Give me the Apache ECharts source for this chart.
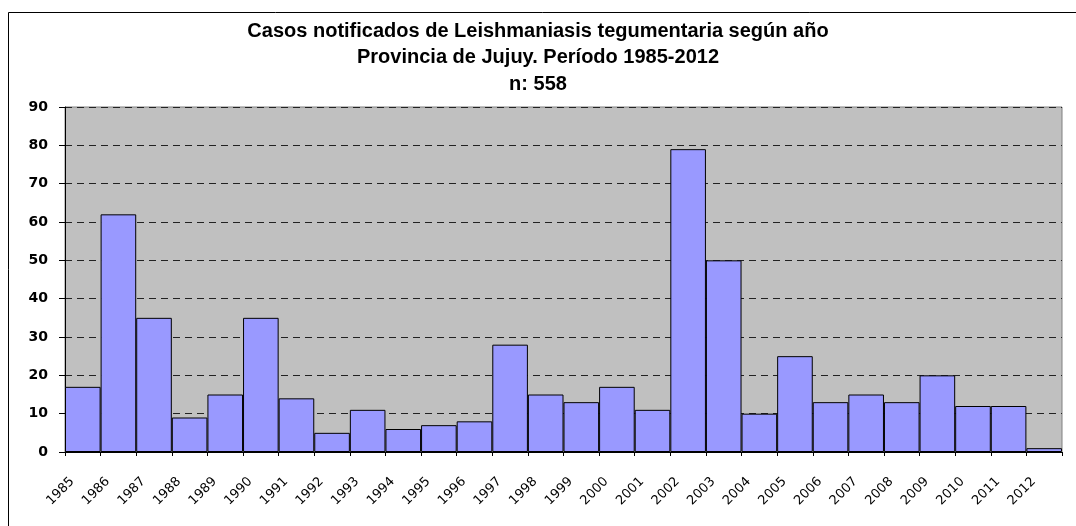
<!DOCTYPE html>
<html>
<head>
<meta charset="utf-8">
<script src="https://cdn.jsdelivr.net/npm/echarts@6/dist/echarts.min.js"></script>
<style>
  html, body { margin: 0; padding: 0; background: #fff; }
  #chart { width: 1076px; height: 526px; }
</style>
</head>
<body>
<div id="chart"></div>
<script>
var years = ['1985', '1986', '1987', '1988', '1989', '1990', '1991', '1992', '1993', '1994',
  '1995', '1996', '1997', '1998', '1999', '2000', '2001', '2002', '2003', '2004',
  '2005', '2006', '2007', '2008', '2009', '2010', '2011', '2012'];
var casos = [17, 62, 35, 9, 15, 35, 14, 5, 11, 6,
  7, 8, 28, 15, 13, 17, 11, 79, 50, 10,
  25, 13, 15, 13, 20, 12, 12, 1];
var titleLines = [
  'Casos notificados de Leishmaniasis tegumentaria según año',
  'Provincia de Jujuy. Período 1985-2012',
  'n: 558'
];
var titleTops = [21, 47, 74];

var chart = echarts.init(document.getElementById('chart'));

var titles = titleLines.map(function (t, i) {
  return {
    text: t,
    left: 'center',
    top: titleTops[i],
    padding: 0,
    textStyle: {
      fontFamily: 'Liberation Sans',
      fontWeight: 'bold',
      fontSize: 20,
      color: '#000'
    }
  };
});

var option = {
  animation: false,
  backgroundColor: '#fff',
  title: titles,
  graphic: [{
    type: 'rect',
    shape: { x: 8.5, y: 12.5, width: 1200, height: 700 },
    style: { fill: null, stroke: '#000', lineWidth: 1 },
    silent: true
  }],
  grid: {
    left: 65,
    right: 14,
    top: 107,
    bottom: 74,
    show: true,
    backgroundColor: '#C0C0C0',
    borderColor: '#808080',
    borderWidth: 1
  },
  xAxis: {
    type: 'category',
    data: years,
    boundaryGap: true,
    axisLine: { lineStyle: { color: '#000', width: 1 } },
    axisTick: { show: true, length: 4, lineStyle: { color: '#000' } },
    axisLabel: {
      rotate: 45,
      interval: 0,
      margin: 17,
      padding: [0, 15, 0, 0],
      fontFamily: 'DejaVu Sans',
      fontSize: 13,
      color: '#000'
    },
    splitLine: { show: false }
  },
  yAxis: {
    type: 'value',
    min: 0,
    max: 90,
    interval: 10,
    axisLine: { show: true, lineStyle: { color: '#000', width: 1 } },
    axisTick: { show: true, length: 6, lineStyle: { color: '#000' } },
    axisLabel: {
      margin: 17,
      fontFamily: 'DejaVu Sans',
      fontWeight: 'bold',
      fontSize: 14,
      color: '#000'
    },
    splitLine: {
      show: true,
      lineStyle: { color: '#222', type: [7, 5], width: 1 }
    }
  },
  series: [{
    name: 'Casos',
    type: 'bar',
    data: casos,
    barWidth: '100%',
    barCategoryGap: '0%',
    itemStyle: {
      color: '#9999FF',
      borderColor: '#000',
      borderWidth: 1
    }
  }]
};

chart.setOption(option);
</script>
</body>
</html>
